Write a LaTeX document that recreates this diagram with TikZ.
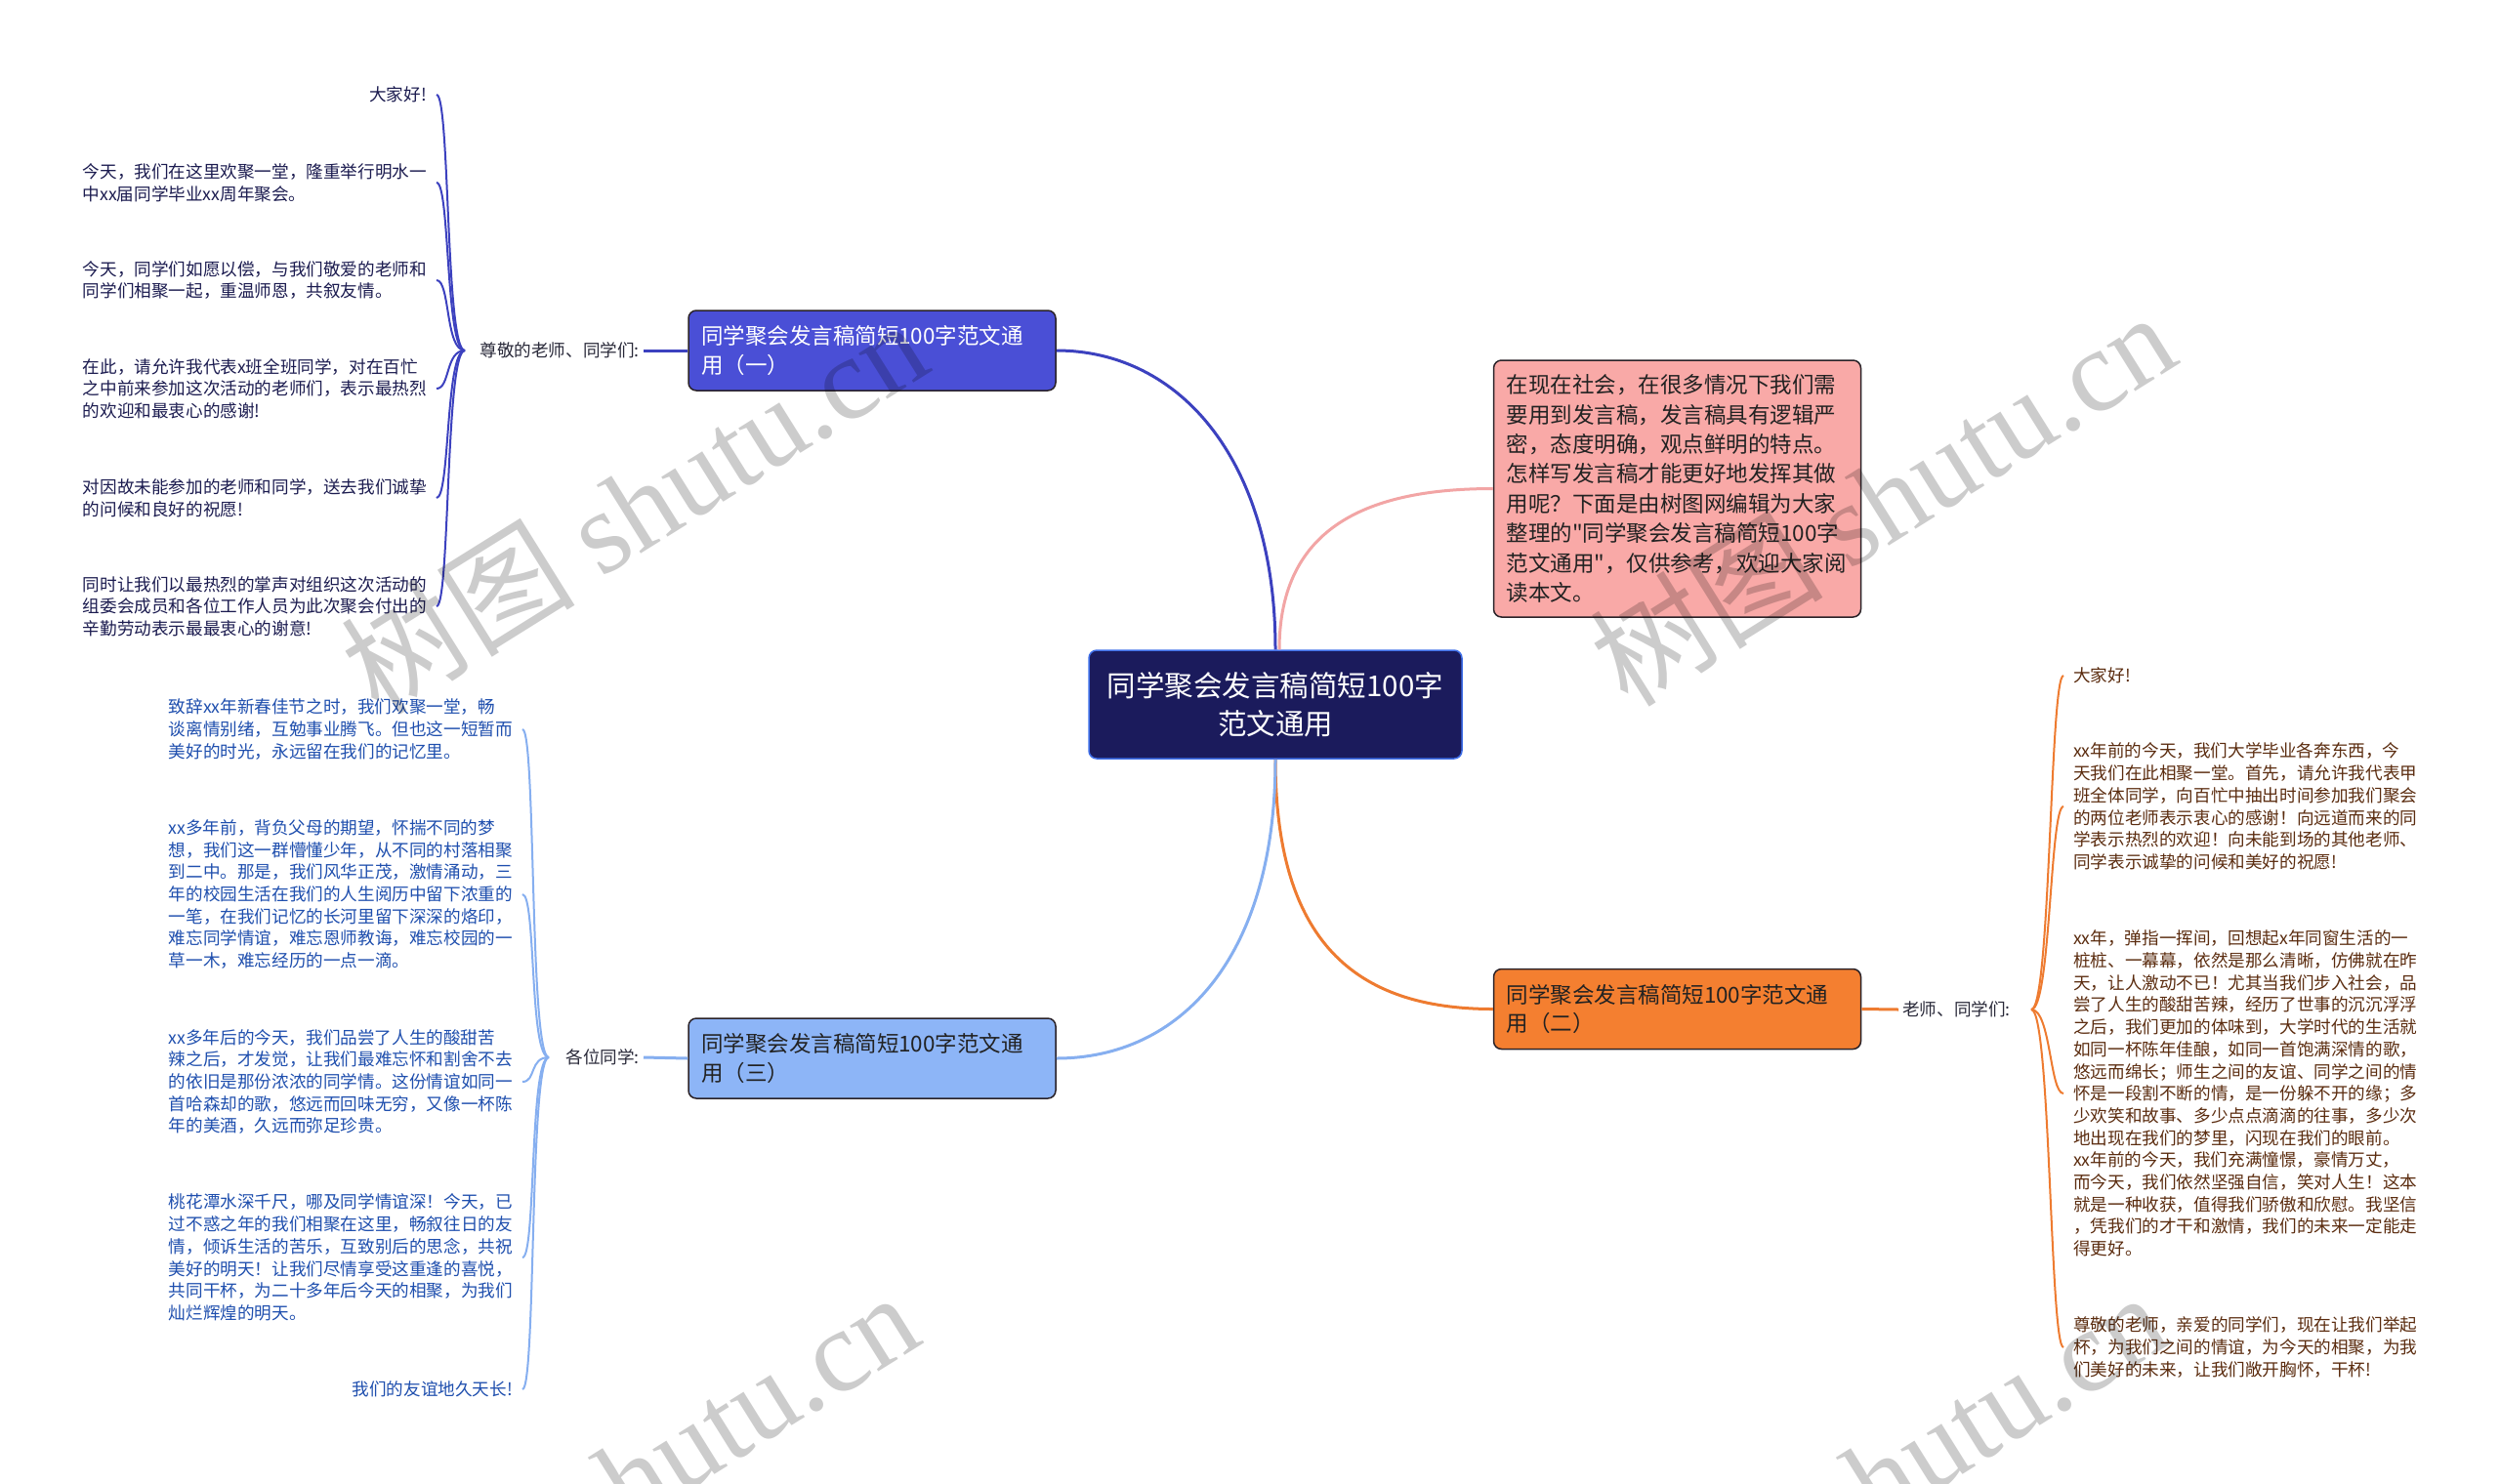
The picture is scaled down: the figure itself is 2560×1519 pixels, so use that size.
\documentclass[tikz,border=0pt]{standalone}
\usepackage{fontspec}
\setmainfont{Noto Sans CJK SC}
\newfontfamily\wmserif{Liberation Serif}
\font\qfont="Noto Sans CJK SC" at 22.5pt
\definecolor{rootfill}{HTML}{1B1B5C}
\definecolor{rootedge}{HTML}{3F6FE8}
\definecolor{bonefill}{HTML}{4A4FD6}
\definecolor{pinkfill}{HTML}{F9A9A7}
\definecolor{orangefill}{HTML}{F47F30}
\definecolor{lbluefill}{HTML}{8DB5F7}
\definecolor{boxedge}{HTML}{2A2228}
\definecolor{tdark}{HTML}{222222}
\definecolor{lineone}{HTML}{3C41BF}
\definecolor{linepink}{HTML}{F2A5A5}
\definecolor{lineorange}{HTML}{EE7B30}
\definecolor{linelblue}{HTML}{86AFF0}
\definecolor{ltc}{HTML}{1C1C50}
\definecolor{lbc}{HTML}{1F4FAE}
\definecolor{rtc}{HTML}{5B2C0F}
\definecolor{labc}{HTML}{2A2A3A}
\tikzset{
  rootbox/.style={rounded corners=8pt, fill=rootfill, draw=rootedge, line width=1.5pt,
    minimum width=382pt, minimum height=111pt, align=center, text=white,
    font=\fontsize{29.5}{39}\selectfont, inner sep=0pt},
  topic/.style={rounded corners=8pt, draw=boxedge, line width=1.5pt, text width=350pt,
    align=left, inner xsep=13pt, inner ysep=0pt, minimum height=82pt,
    font=\fontsize{22.5}{29.5}\selectfont},
  leaf/.style={font=\fontsize{17.6}{22.7}\selectfont, align=left, inner xsep=10pt, inner ysep=0pt},
  lt/.style={leaf, text=ltc, anchor=east},
  lbl/.style={leaf, text=lbc, anchor=east},
  rt/.style={leaf, text=rtc, anchor=west},
  lab/.style={font=\fontsize{17.6}{20}\selectfont, text=labc, inner sep=4pt},
  mainline/.style={line width=3pt},
  brk/.style={line width=2pt},
  wm/.style={font=\fontsize{120}{120}\selectfont, text=black, opacity=0.2, rotate=32, inner sep=0pt}
}
\begin{document}
\begin{tikzpicture}[x=1pt,y=-1pt]
\useasboundingbox (0,0) rectangle (2560,1519);
\fill[white] (0,0) rectangle (2560,1519);

% main nodes
\node[rootbox] (c) at (1306,721.5) {同学聚会发言稿简短100字\\范文通用};
\node[topic, fill=bonefill, text=white] (t1) at (893,359) {同学聚会发言稿简短100字范文通\\用（一）};
\node[topic, fill=pinkfill, text=tdark, minimum height=263pt, font=\fontsize{22.5}{30.4}\selectfont] (pk) at (1717.5,500.5) {在现在社会，在很多情况下我们需\\要用到发言稿，发言稿具有逻辑严\\密，态度明确，观点鲜明的特点。\\怎样写发言稿才能更好地发挥其做\\用呢？下面是由树图网编辑为大家\\整理的{\qfont"}同学聚会发言稿简短100字\\范文通用{\qfont"}，仅供参考，欢迎大家阅\\读本文。};
\node[topic, fill=orangefill, text=tdark] (t2) at (1717.5,1033.5) {同学聚会发言稿简短100字范文通\\用（二）};
\node[topic, fill=lbluefill, text=tdark] (t3) at (893,1084) {同学聚会发言稿简短100字范文通\\用（三）};

% main connectors
\draw[mainline, lineone] (c.north) .. controls +(0,-193) and +(127,0) .. (t1.east);
\draw[mainline, linepink] (c.north) ++(4,0) coordinate (cp) .. controls +(0,-127) and +(-126,0) .. (pk.west);
\draw[mainline, lineorange] (c.south) .. controls +(0,186) and +(-142,0) .. (t2.west);
\draw[mainline, linelblue] (c.south) .. controls +(0,203) and +(127,0) .. (t3.east);

% labels
\node[lab, anchor=east] (l1) at (659,359) {尊敬的老师、同学们:};
\node[lab, anchor=east] (l3) at (659,1083) {各位同学:};
\node[lab, anchor=west] (l2) at (1944,1034) {老师、同学们:};
\draw[mainline, lineone] (t1.west) -- (l1.east);
\draw[mainline, linelblue] (t3.west) -- (l3.east);
\draw[mainline, lineorange] (t2.east) -- (l2.west);
\coordinate (h1) at (476,359);
\coordinate (h3) at (562,1083);
\coordinate (h2) at (2080,1034);

% left-top leaves
\node[lt] (a1) at (447,97) {大家好!};
\node[lt] (a2) at (447,187) {今天，我们在这里欢聚一堂，隆重举行明水一\\中xx届同学毕业xx周年聚会。};
\node[lt] (a3) at (447,287) {今天，同学们如愿以偿，与我们敬爱的老师和\\同学们相聚一起，重温师恩，共叙友情。};
\node[lt] (a4) at (447,398) {在此，请允许我代表x班全班同学，对在百忙\\之中前来参加这次活动的老师们，表示最热烈\\的欢迎和最衷心的感谢!};
\node[lt] (a5) at (447,510) {对因故未能参加的老师和同学，送去我们诚挚\\的问候和良好的祝愿!};
\node[lt] (a6) at (447,621) {同时让我们以最热烈的掌声对组织这次活动的\\组委会成员和各位工作人员为此次聚会付出的\\辛勤劳动表示最最衷心的谢意!};
\foreach \n in {a1,a2,a3,a4,a5,a6}
  \draw[brk, lineone] (h1) .. controls +(-20,0) and +(14,0) .. (\n.east);

% left-bottom leaves
\node[lbl] (b1) at (535,747) {致辞xx年新春佳节之时，我们欢聚一堂，畅\\谈离情别绪，互勉事业腾飞。但也这一短暂而\\美好的时光，永远留在我们的记忆里。};
\node[lbl] (b2) at (535,916) {xx多年前，背负父母的期望，怀揣不同的梦\\想，我们这一群懵懂少年，从不同的村落相聚\\到二中。那是，我们风华正茂，激情涌动，三\\年的校园生活在我们的人生阅历中留下浓重的\\一笔，在我们记忆的长河里留下深深的烙印，\\难忘同学情谊，难忘恩师教诲，难忘校园的一\\草一木，难忘经历的一点一滴。};
\node[lbl] (b3) at (535,1108) {xx多年后的今天，我们品尝了人生的酸甜苦\\辣之后，才发觉，让我们最难忘怀和割舍不去\\的依旧是那份浓浓的同学情。这份情谊如同一\\首哈森却的歌，悠远而回味无穷，又像一杯陈\\年的美酒，久远而弥足珍贵。};
\node[lbl] (b4) at (535,1288) {桃花潭水深千尺，哪及同学情谊深！今天，已\\过不惑之年的我们相聚在这里，畅叙往日的友\\情，倾诉生活的苦乐，互致别后的思念，共祝\\美好的明天！让我们尽情享受这重逢的喜悦，\\共同干杯，为二十多年后今天的相聚，为我们\\灿烂辉煌的明天。};
\node[lbl] (b5) at (535,1423) {我们的友谊地久天长!};
\foreach \n in {b1,b2,b3,b4,b5}
  \draw[brk, linelblue] (h3) .. controls +(-20,0) and +(14,0) .. (\n.east);

% right leaves
\node[rt] (r1) at (2113,692) {大家好!};
\node[rt] (r2) at (2113,826) {xx年前的今天，我们大学毕业各奔东西，今\\天我们在此相聚一堂。首先，请允许我代表甲\\班全体同学，向百忙中抽出时间参加我们聚会\\的两位老师表示衷心的感谢！向远道而来的同\\学表示热烈的欢迎！向未能到场的其他老师、\\同学表示诚挚的问候和美好的祝愿!};
\node[rt] (r3) at (2113,1120) {xx年，弹指一挥间，回想起x年同窗生活的一\\桩桩、一幕幕，依然是那么清晰，仿佛就在昨\\天，让人激动不已！尤其当我们步入社会，品\\尝了人生的酸甜苦辣，经历了世事的沉沉浮浮\\之后，我们更加的体味到，大学时代的生活就\\如同一杯陈年佳酿，如同一首饱满深情的歌，\\悠远而绵长；师生之间的友谊、同学之间的情\\怀是一段割不断的情，是一份躲不开的缘；多\\少欢笑和故事、多少点点滴滴的往事，多少次\\地出现在我们的梦里，闪现在我们的眼前。\\xx年前的今天，我们充满憧憬，豪情万丈，\\而今天，我们依然坚强自信，笑对人生！这本\\就是一种收获，值得我们骄傲和欣慰。我坚信\\，凭我们的才干和激情，我们的未来一定能走\\得更好。};
\node[rt] (r4) at (2113,1380) {尊敬的老师，亲爱的同学们，现在让我们举起\\杯，为我们之间的情谊，为今天的相聚，为我\\们美好的未来，让我们敞开胸怀，干杯!};
\foreach \n in {r1,r2,r3,r4}
  \draw[brk, lineorange] (h2) .. controls +(20,0) and +(-14,0) .. (\n.west);

% watermarks
\node[wm] (w1) at (649,518) {树图 {\wmserif shutu.cn}};
\node[wm] (w2) at (1927,510) {树图 {\wmserif shutu.cn}};
\node[wm] (w3) at (640,1514) {树图 {\wmserif shutu.cn}};
\node[wm] (w4) at (1918,1514) {树图 {\wmserif shutu.cn}};
\end{tikzpicture}
\end{document}
